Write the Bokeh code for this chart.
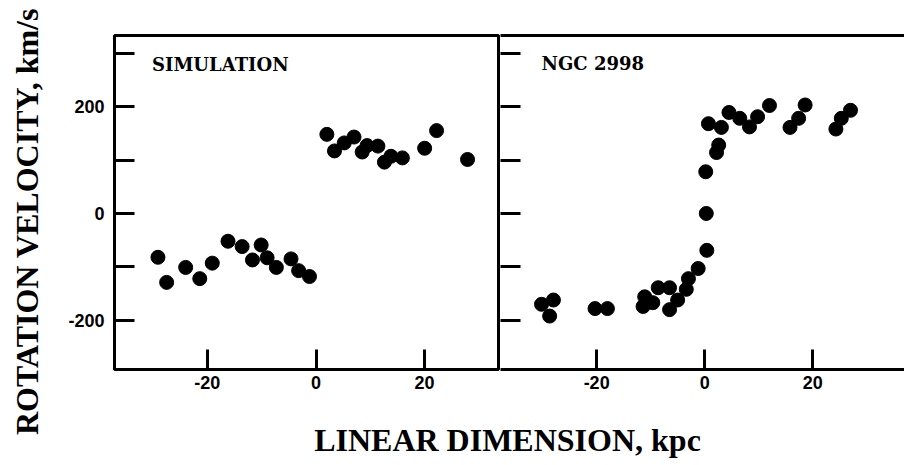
import math
from bokeh.plotting import figure
from bokeh.models import FixedTicker, LinearAxis, Label, Range1d
from bokeh.layouts import row, column
from bokeh.embed import file_html
from bokeh.resources import INLINE

# ---- data ----
sim_x = [-29.1, -27.5, -24.0, -21.4, -19.1, -16.2, -13.6, -11.7, -10.1, -9.0,
         -7.3, -4.6, -3.2, -1.2, 2.0, 3.4, 5.2, 7.0, 8.5, 9.4, 11.4, 12.6,
         13.8, 15.9, 20.0, 22.2, 27.9]
sim_v = [-82, -129, -101, -122, -93, -52, -62, -87, -59, -83,
         -101, -85, -107, -118, 148, 117, 132, 143, 115, 127, 126, 96,
         107, 104, 122, 155, 101]

ngc_x = [-30.2, -28.0, -28.7, -20.3, -18.0, -11.1, -11.4, -9.6, -8.6, -6.5,
         -6.5, -5.0, -3.4, -3.0, -1.2, 0.4, 0.3, 0.2, 0.7, 3.1, 2.6, 2.2,
         4.5, 6.5, 8.3, 9.8, 12.0, 15.8, 17.4, 18.6, 24.3, 25.3, 27.0]
ngc_v = [-170, -162, -192, -178, -178, -156, -174, -167, -139, -139,
         -180, -162, -142, -122, -103, -69, 0, 78, 168, 161, 128, 114,
         189, 178, 162, 181, 202, 161, 178, 203, 158, 178, 193]

y_ticks = [-200, -100, 0, 100, 200, 300]
y_tick_labels = {-200: "-200", -100: "", 0: "0", 100: "", 200: "200", 300: ""}
x_ticks = [-20, 0, 20]
x_tick_labels = {-20: "-20", 0: "0", 20: "20"}
panel_titles = ["SIMULATION", "NGC 2998"]
x_title = "LINEAR DIMENSION, kpc"
y_title = "ROTATION VELOCITY, km/s"

TICK_FONT = "Liberation Sans"
TITLE_FONT = "Liberation Serif"
PANEL_FONT = "DejaVu Serif"

Y_RANGE = (-292, 333)


def style_axis(ax, ticks, labels):
    ax.ticker = FixedTicker(ticks=ticks)
    ax.major_label_overrides = labels
    ax.major_tick_in = 20
    ax.major_tick_out = 0
    ax.minor_tick_in = 0
    ax.minor_tick_out = 0
    ax.major_tick_line_width = 3
    ax.major_tick_line_color = "black"
    ax.axis_line_width = 3
    ax.axis_line_color = "black"
    ax.major_label_text_font = TICK_FONT
    ax.major_label_text_font_style = "bold"
    ax.major_label_text_color = "black"
    ax.major_label_text_font_size = "18px"


# ---- left panel ----
left = figure(width=452, height=400, x_range=Range1d(-37.1, 33.6),
              y_range=Range1d(*Y_RANGE), toolbar_location=None,
              output_backend="svg", min_border_left=66, min_border_right=2,
              min_border_top=35, min_border_bottom=31)
left.grid.visible = False
left.outline_line_color = "black"
left.outline_line_width = 3
style_axis(left.yaxis[0], y_ticks, y_tick_labels)
left.yaxis[0].major_label_standoff = 10
style_axis(left.xaxis[0], x_ticks, x_tick_labels)
left.xaxis[0].major_label_standoff = 6
left.scatter(sim_x, sim_v, size=14, color="black")
left.add_layout(Label(x=-30.2, y=298, text=panel_titles[0], text_font=PANEL_FONT,
                      text_font_style="bold", text_font_size="18px",
                      text_baseline="top", text_align="left", text_color="black"))

# ---- right panel ----
right = figure(width=404, height=400, x_range=Range1d(-37.8, 37.0),
               y_range=Range1d(*Y_RANGE), toolbar_location=None,
               output_backend="svg", min_border_left=0, min_border_right=0,
               min_border_top=35, min_border_bottom=31)
right.grid.visible = False
right.outline_line_color = None
style_axis(right.yaxis[0], y_ticks, {t: "" for t in y_ticks})
right.yaxis[0].axis_line_color = None
right.yaxis[0].major_label_standoff = 0
style_axis(right.xaxis[0], x_ticks, x_tick_labels)
right.xaxis[0].major_label_standoff = 6
top_ax = LinearAxis()
style_axis(top_ax, [], {})
top_ax.major_tick_in = 0
top_ax.major_label_standoff = 0
right.add_layout(top_ax, "above")
right.scatter(ngc_x, ngc_v, size=14, color="black")
right.add_layout(Label(x=-30.2, y=300, text=panel_titles[1], text_font=PANEL_FONT,
                       text_font_style="bold", text_font_size="18px",
                       text_baseline="top", text_align="left", text_color="black"))


def blank(w, h):
    f = figure(width=w, height=h, x_range=Range1d(0, w), y_range=Range1d(0, h),
               toolbar_location=None, output_backend="svg", min_border=0,
               x_axis_location=None, y_axis_location=None)
    f.grid.visible = False
    f.outline_line_color = None
    return f


ylab = blank(48, 465)
ylab.add_layout(Label(x=26.5, y=244, text=y_title, angle=math.pi / 2,
                      text_align="center", text_baseline="middle",
                      text_font=TITLE_FONT, text_font_style="bold",
                      text_font_size="32px", text_color="black"))

xlab = blank(856, 65)
xlab.add_layout(Label(x=459, y=26, text=x_title, text_align="center",
                      text_baseline="middle", text_font=TITLE_FONT,
                      text_font_style="bold", text_font_size="32px",
                      text_color="black"))

layout = row(ylab, column(row(left, right), xlab))

open("out.html", "w").write(file_html(layout, INLINE))
